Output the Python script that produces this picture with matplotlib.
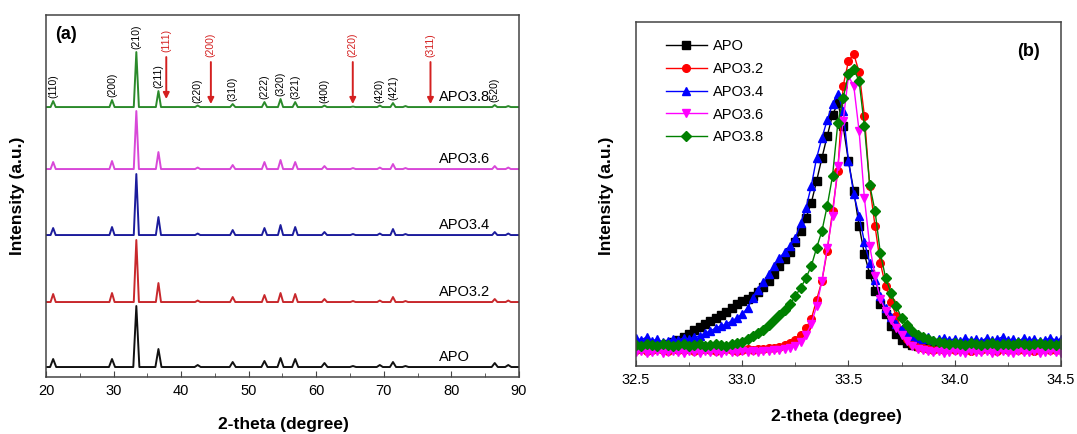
import matplotlib.pyplot as plt
import numpy as np
from matplotlib.ticker import MultipleLocator

plt.rcParams['font.family'] = ['Liberation Sans', 'DejaVu Sans']

# ---------- panel (a): full XRD patterns ----------
samples = ['APO', 'APO3.2', 'APO3.4', 'APO3.6', 'APO3.8']
peak_pos = [21.06, 29.77, 33.37, 36.64, 42.45, 47.63, 52.33, 54.71, 56.88,
            61.21, 65.43, 69.40, 71.35, 73.20, 86.41, 88.41]
h_apo   = [8, 8, 61, 18, 2, 5, 6, 9, 8, 4, 1, 2, 5, 1, 4, 2]
h_apo32 = [8, 9, 62, 19, 1.5, 5, 7, 9, 8, 3, 1, 1.5, 5, 1, 3, 1.5]
h_apo34 = [7, 8, 61, 18, 1.5, 5, 7, 10, 8, 3, 1, 1.5, 6, 1, 3, 1.5]
h_apo36 = [7, 8, 58, 17, 1.5, 4, 7, 9, 7, 3, 1, 1.5, 5, 1, 3, 1.5]
h_apo38 = [6, 7, 55, 16, 1.5, 3, 5, 8, 5, 1.5, 0.5, 1.5, 4, 1, 2, 1]

hkl_labels = ['(110)', '(200)', '(210)', '(211)', '(220)', '(310)', '(222)',
              '(320)', '(321)', '(400)', '(420)', '(421)', '(520)']
hkl_pos = [21.06, 29.77, 33.37, 36.64, 42.45, 47.63, 52.33, 54.71, 56.88,
           61.21, 69.40, 71.35, 86.41]

ag_labels = ['(111)', '(200)', '(220)', '(311)']
ag_pos = [37.8, 44.4, 65.4, 76.9]

# ---------- panel (b): zoom on the (210) peak ----------
two_theta = np.linspace(32.5, 34.5, 81)
i_apo = [20, 19, 21, 19, 20, 21, 22, 24, 26, 29,
         32, 36, 39, 42, 45, 48, 51, 54, 58, 62,
         65, 67, 70, 74, 79, 85, 92, 100, 107, 114,
         124, 135, 148, 163, 185, 208, 230, 251, 263, 240,
         205, 175, 140, 112, 92, 75, 62, 52, 40, 32,
         26, 23, 21, 20, 21, 19, 20, 21, 19, 20,
         21, 20, 19, 21, 20, 20, 22, 20, 19, 21,
         20, 21, 19, 20, 21, 20, 19, 21, 20, 19, 20]
i_apo32 = [16, 17, 15, 16, 17, 16, 15, 17, 16, 16,
           17, 15, 16, 17, 16, 15, 16, 17, 16, 15,
           16, 17, 16, 17, 17, 18, 18, 19, 21, 23,
           26, 31, 38, 47, 66, 85, 115, 155, 195, 280,
           305, 312, 294, 250, 180, 140, 103, 80, 64, 50,
           36, 27, 22, 19, 18, 17, 16, 17, 16, 17,
           16, 17, 16, 15, 17, 16, 17, 16, 15, 17,
           16, 17, 16, 16, 17, 15, 16, 17, 16, 16, 17]
i_apo34 = [28, 26, 29, 25, 27, 24, 25, 27, 26, 28,
           27, 29, 30, 33, 35, 38, 40, 42, 45, 48,
           52, 58, 68, 76, 84, 92, 100, 108, 114, 120,
           128, 143, 158, 180, 208, 228, 246, 262, 272, 255,
           205, 172, 150, 124, 103, 86, 70, 58, 49, 42,
           37, 33, 30, 28, 27, 29, 26, 27, 28, 26,
           27, 25, 28, 26, 27, 25, 28, 26, 27, 29,
           26, 27, 25, 28, 26, 27, 25, 26, 28, 26, 27]
i_apo36 = [14, 15, 13, 14, 15, 13, 14, 15, 14, 13,
           15, 14, 13, 15, 14, 14, 13, 15, 14, 14,
           15, 14, 15, 14, 15, 15, 16, 16, 17, 18,
           20, 24, 31, 42, 60, 85, 118, 150, 200, 245,
           290, 280, 235, 168, 120, 90, 67, 55, 46, 38,
           31, 25, 20, 17, 16, 15, 14, 15, 13, 14,
           15, 14, 13, 15, 14, 14, 15, 13, 14, 15,
           14, 13, 15, 14, 14, 15, 13, 14, 15, 14, 13]
i_apo38 = [21, 20, 22, 21, 20, 22, 21, 20, 21, 22,
           20, 21, 22, 20, 21, 22, 21, 20, 22, 23,
           24, 27, 30, 33, 36, 41, 46, 51, 56, 62,
           70, 78, 88, 100, 118, 135, 160, 190, 243, 268,
           292, 297, 285, 240, 181, 155, 113, 88, 73, 60,
           48, 41, 35, 31, 29, 27, 25, 24, 23, 22,
           23, 22, 21, 23, 22, 21, 22, 23, 21, 22,
           22, 21, 23, 22, 21, 22, 23, 21, 22, 21, 22]

# styling
offsets_a = [10, 75, 142, 208, 270]
colors_a = ['#111111', '#c8282c', '#1c1c9c', '#d848d8', '#2b8a2b']
colors_b = ['#000000', '#ff0000', '#0000ff', '#ff00ff', '#008000']
markers_b = ['s', 'o', '^', 'v', 'D']


def stick_pattern(heights, base, hw=0.35):
    xs, ys = [20.0], [base]
    for p, h in zip(peak_pos, heights):
        xs += [p - hw, p, p + hw]
        ys += [base, base + h, base]
    xs.append(90.0)
    ys.append(base)
    return xs, ys


fig = plt.figure(figsize=(10.77, 4.34), dpi=100)
ax1 = fig.add_axes([0.0427, 0.1313, 0.4392, 0.834])
ax2 = fig.add_axes([0.5905, 0.1567, 0.3946, 0.7926])

# panel (a)
heights_a = [h_apo, h_apo32, h_apo34, h_apo36, h_apo38]
for name, h, off, c in zip(samples, heights_a, offsets_a, colors_a):
    xs, ys = stick_pattern(h, off, 0.45 if name == 'APO' else 0.38)
    ax1.plot(xs, ys, color=c, lw=1.4)
    ax1.text(78.1, off + 3, name, fontsize=10.5, ha='left', va='bottom')

for lab, p in zip(hkl_labels, hkl_pos):
    top = offsets_a[-1] + h_apo38[peak_pos.index(p)]
    ax1.text(p, top + 3, lab, rotation=90, fontsize=7.5,
             ha='center', va='bottom')

for lab, p in zip(ag_labels, ag_pos):
    tip = 278 if lab == '(111)' else 273
    ax1.annotate('', xy=(p, tip), xytext=(p, tip + 42),
                 arrowprops=dict(arrowstyle='-|>', color='#d42020', lw=1.4,
                                 mutation_scale=9, shrinkA=0, shrinkB=0))
    ax1.text(p, tip + 47, lab, rotation=90, fontsize=7.5, color='#d42020',
             ha='center', va='bottom')

ax1.text(0.02, 0.97, '(a)', transform=ax1.transAxes, fontsize=13,
         fontweight='bold', ha='left', va='top')
ax1.set_xlim(20, 90)
ax1.set_ylim(0, 362)
ax1.set_yticks([])
ax1.xaxis.set_major_locator(MultipleLocator(10))
ax1.xaxis.set_minor_locator(MultipleLocator(5))

# panel (b)
series_b = [i_apo, i_apo32, i_apo34, i_apo36, i_apo38]
for name, y, c, m in zip(samples, series_b, colors_b, markers_b):
    ax2.plot(two_theta, y, color=c, lw=1.0, marker=m,
             markersize=5 if m == 'D' else 5.5, label=name)
ax2.legend(loc='upper left', bbox_to_anchor=(0.05, 0.975), frameon=False,
           fontsize=10.5, handlelength=2.8, handletextpad=0.4,
           labelspacing=0.6, borderaxespad=0.2)
ax2.text(0.95, 0.94, '(b)', transform=ax2.transAxes, fontsize=13,
         fontweight='bold', ha='right', va='top')
ax2.set_xlim(32.5, 34.5)
ax2.set_ylim(0, 344)
ax2.set_yticks([])
ax2.xaxis.set_major_locator(MultipleLocator(0.5))
ax2.xaxis.set_minor_locator(MultipleLocator(0.25))
ax2.xaxis.set_major_formatter(plt.FormatStrFormatter('%.1f'))

for ax in (ax1, ax2):
    for s in ax.spines.values():
        s.set_color('#444444')
        s.set_linewidth(1.1)
    ax.tick_params(axis='x', which='both', direction='in', labelsize=10.5,
                   pad=5, color='#444444')
    ax.tick_params(axis='x', which='major', length=4)
    ax.tick_params(axis='x', which='minor', length=3)

fig.text(0.0167, 0.548, 'Intensity (a.u.)', rotation=90, fontsize=12.5,
         fontweight='bold', ha='center', va='center')
fig.text(0.263, 0.021, '2-theta (degree)', fontsize=12.5,
         fontweight='bold', ha='center', va='center')
fig.text(0.5635, 0.548, 'Intensity (a.u.)', rotation=90, fontsize=12.5,
         fontweight='bold', ha='center', va='center')
fig.text(0.777, 0.041, '2-theta (degree)', fontsize=12.5,
         fontweight='bold', ha='center', va='center')

fig.savefig('out.png', dpi=100)
